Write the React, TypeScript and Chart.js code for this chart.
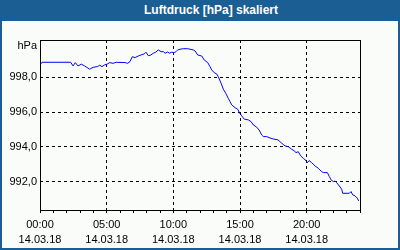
import React, { useEffect, useRef } from 'react';
import { Chart, registerables } from 'chart.js';

Chart.register(...registerables);

const TITLE = 'Luftdruck [hPa] skaliert';
const Y_UNIT = 'hPa';
const DATE_LABEL = '14.03.18';

// time of day in hours (14.03.18)
const HOURS = [
  0, 0.15, 2.3, 2.48, 2.65, 2.85, 3.1, 3.35, 3.73, 3.98,
  4.3, 4.48, 4.65, 4.85, 5.03, 5.23, 5.48, 5.72, 6.38, 6.58,
  6.75, 6.92, 7.13, 7.37, 7.58, 7.82, 7.95, 8.12, 8.27, 8.5,
  8.68, 8.87, 9.08, 9.25, 9.38, 9.58, 9.7, 9.88, 10.07, 10.2,
  10.33, 10.5, 10.75, 11.08, 11.25, 11.5, 11.63, 11.83, 12.13, 12.32,
  12.58, 12.75, 12.88, 13.07, 13.25, 13.37, 13.58, 13.75, 13.93, 14.12,
  14.25, 14.38, 14.63, 14.83, 14.95, 15.13, 15.32, 15.62, 15.83, 16.0,
  16.25, 16.43, 16.63, 16.75, 17.0, 17.18, 17.5, 17.85, 18.13, 18.38,
  18.62, 18.88, 19.05, 19.2, 19.37, 19.55, 19.75, 19.95, 20.05, 20.18,
  20.38, 20.63, 20.87, 21.13, 21.25, 21.55, 21.7, 21.83, 22.0, 22.13,
  22.25, 22.45, 22.63, 22.7, 23.2, 23.33, 23.45, 23.63, 23.8, 23.9,
];

// air pressure in hPa
const PRESSURE = [
  998.71, 998.86, 998.86, 998.65, 998.84, 998.65, 998.75, 998.65, 998.46, 998.57,
  998.61, 998.69, 998.61, 998.71, 998.75, 998.84, 998.8, 998.86, 998.84, 998.8,
  998.9, 999.18, 999.13, 999.22, 999.28, 999.34, 999.44, 999.24, 999.26, 999.38,
  999.44, 999.57, 999.47, 999.47, 999.38, 999.45, 999.38, 999.44, 999.41, 999.47,
  999.57, 999.61, 999.64, 999.64, 999.61, 999.57, 999.51, 999.28, 999.22, 998.99,
  998.84, 998.61, 998.42, 998.26, 998.19, 998.03, 997.66, 997.31, 997.08, 996.79,
  996.6, 996.41, 996.25, 996.16, 995.97, 995.78, 995.59, 995.55, 995.45, 995.26,
  995.13, 994.97, 994.68, 994.59, 994.59, 994.53, 994.45, 994.4, 994.21, 994.05,
  994.01, 993.86, 993.78, 993.67, 993.72, 993.48, 993.34, 993.21, 993.09, 993.21,
  993.09, 992.9, 992.77, 992.57, 992.52, 992.52, 992.29, 992.1, 992.0, 992.04,
  991.94, 991.75, 991.56, 991.33, 991.33, 991.43, 991.24, 991.18, 991.05, 990.89,
];

const Y_TICKS = [992, 994, 996, 998];
const X_TICKS = [
  0, 1, 2, 3, 4, 5, 6, 7, 8, 9, 10, 11, 12,
  13, 14, 15, 16, 17, 18, 19, 20, 21, 22, 23, 24,
];
const X_LABELED = [0, 5, 10, 15, 20];
const X_GRID = [5, 10, 15, 20];
const X_MIN = 0;
const X_MAX = 24;
const Y_MIN = 990.37;
const Y_MAX = 1000.14;

const BLUE = '#1b5e93';
const PANEL = '#fafcfa';
const FONT_FAMILY = '"Liberation Sans", Arial, sans-serif';

const framePlugin = {
  id: 'frame',
  afterDraw(chart: any) {
    const { ctx, chartArea: a } = chart;
    ctx.save();
    ctx.setLineDash([]);
    ctx.strokeStyle = '#000';
    ctx.lineWidth = 1;
    ctx.strokeRect(a.left + 0.5, a.top + 0.5, a.right - a.left, a.bottom - a.top);
    ctx.fillStyle = '#000';
    ctx.font = '11px ' + FONT_FAMILY;
    ctx.textAlign = 'right';
    ctx.textBaseline = 'middle';
    ctx.fillText(Y_UNIT, a.left - 3, a.top + 6);
    ctx.restore();
  },
};

export default function App() {
  const ref = useRef<HTMLCanvasElement | null>(null);

  useEffect(() => {
    if (!ref.current) return;
    const font = { family: FONT_FAMILY, size: 11, lineHeight: 1.35 };
    const chart = new Chart(ref.current, {
      type: 'line',
      data: {
        datasets: [
          {
            data: HOURS.map((h, i) => ({ x: h, y: PRESSURE[i] })),
            borderColor: '#0000ff',
            borderWidth: 1,
            pointRadius: 0,
            tension: 0,
            fill: false,
          },
        ],
      },
      options: {
        animation: false,
        responsive: false,
        devicePixelRatio: 1,
        layout: { padding: { left: 0, top: 40, right: 40, bottom: 0 } },
        plugins: {
          legend: { display: false },
          tooltip: { enabled: false },
          title: { display: false },
        },
        scales: {
          x: {
            type: 'linear',
            min: X_MIN,
            max: X_MAX,
            afterFit: (s: any) => {
              s.height = 40;
            },
            afterBuildTicks: (s: any) => {
              s.ticks = X_TICKS.map((v) => ({ value: v }));
            },
            ticks: {
              autoSkip: false,
              maxRotation: 0,
              minRotation: 0,
              padding: 5,
              color: '#000',
              font,
              callback: (v: any) => {
                const n = Number(v);
                if (!X_LABELED.includes(n)) return '';
                return [String(n).padStart(2, '0') + ':00', DATE_LABEL];
              },
            },
            grid: {
              color: (c: any) =>
                c.tick && X_GRID.includes(c.tick.value) ? '#000' : 'rgba(0,0,0,0)',
              tickColor: '#000',
              tickLength: 3,
              tickWidth: 1,
              lineWidth: 1,
              tickBorderDash: [],
            },
            border: { display: false, dash: [3, 3] },
          },
          y: {
            type: 'linear',
            min: Y_MIN,
            max: Y_MAX,
            afterFit: (s: any) => {
              s.width = 40;
            },
            afterBuildTicks: (s: any) => {
              s.ticks = Y_TICKS.map((v) => ({ value: v }));
            },
            ticks: {
              padding: 3,
              color: '#000',
              font,
              callback: (v: any) => Number(v).toFixed(1).replace('.', ','),
            },
            grid: { color: '#000', drawTicks: false, lineWidth: 1 },
            border: { display: false, dash: [3, 3] },
          },
        },
      },
      plugins: [framePlugin],
    } as any);
    return () => chart.destroy();
  }, []);

  return (
    <div
      style={{
        position: 'fixed',
        left: 0,
        top: 0,
        width: 400,
        height: 250,
        background: BLUE,
        overflow: 'hidden',
      }}
    >
      <div
        style={{
          position: 'absolute',
          left: 0,
          top: 0,
          width: 400,
          height: 21,
          lineHeight: '20px',
          paddingLeft: 22,
          boxSizing: 'border-box',
          textAlign: 'center',
          color: '#fff',
          fontFamily: FONT_FAMILY,
          fontWeight: 'bold',
          fontSize: 12,
        }}
      >
        {TITLE}
      </div>
      <div
        style={{
          position: 'absolute',
          left: 2,
          top: 21,
          width: 396,
          height: 227,
          background: PANEL,
        }}
      />
      <canvas
        ref={ref}
        width={400}
        height={250}
        style={{ position: 'absolute', left: 0, top: 0 }}
      />
    </div>
  );
}
